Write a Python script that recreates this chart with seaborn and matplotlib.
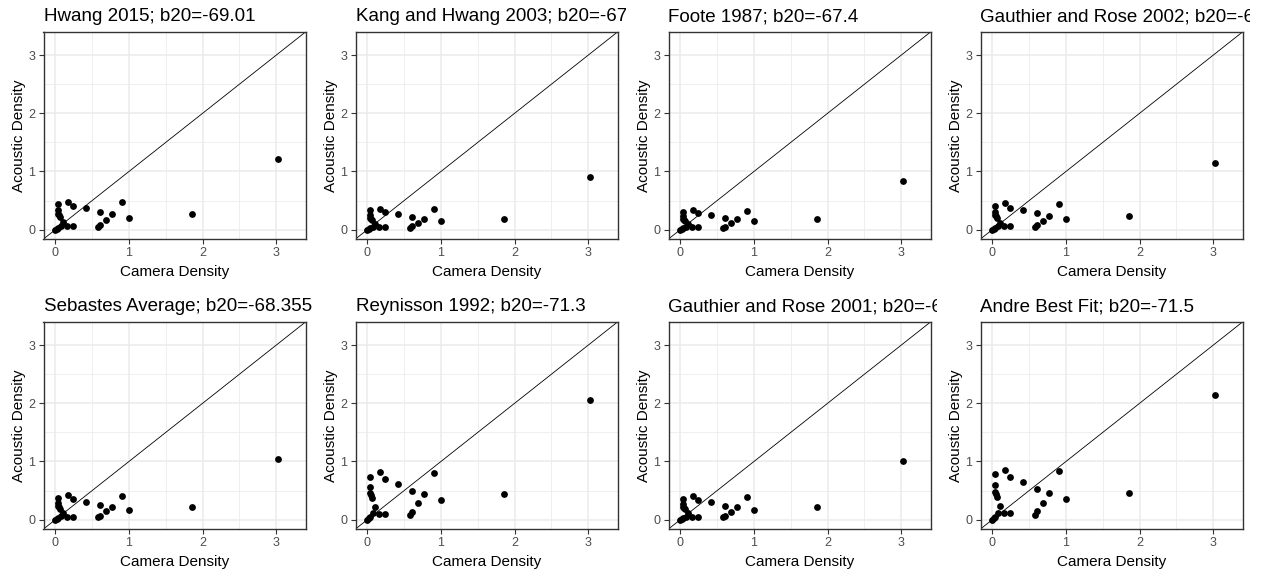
import numpy as np
import pandas as pd
import matplotlib
matplotlib.use("Agg")
import matplotlib.pyplot as plt
from matplotlib.transforms import Bbox, TransformedBbox
import seaborn as sns

# ---------------- data ----------------
titles = [
    "Hwang 2015; b20=-69.01",
    "Kang and Hwang 2003; b20=-67.7",
    "Foote 1987; b20=-67.4",
    "Gauthier and Rose 2002; b20=-68.7",
    "Sebastes Average; b20=-68.355",
    "Reynisson 1992; b20=-71.3",
    "Gauthier and Rose 2001; b20=-68.1",
    "Andre Best Fit; b20=-71.5",
]

camera = [3.03, 1.86, 1.00, 0.91, 0.77, 0.69, 0.60, 0.61, 0.58, 0.42, 0.235, 0.235,
          0.17, 0.155, 0.105, 0.035, 0.035, 0.04, 0.05, 0.058, 0.07, 0.04, 0.018, 0.0]

acoustic_hwang = [1.22, 0.26, 0.20, 0.47, 0.26, 0.17, 0.30, 0.077, 0.045, 0.37, 0.41, 0.06,
                  0.48, 0.06, 0.13, 0.44, 0.33, 0.27, 0.25, 0.22, 0.065, 0.03, 0.012, 0.0]
acoustic_kang = [0.91, 0.19, 0.15, 0.35, 0.19, 0.12, 0.22, 0.057, 0.033, 0.27, 0.30, 0.044,
                 0.36, 0.044, 0.10, 0.33, 0.25, 0.20, 0.19, 0.16, 0.05, 0.022, 0.009, 0.0]
acoustic_foote = [0.83, 0.18, 0.14, 0.32, 0.18, 0.11, 0.20, 0.053, 0.03, 0.25, 0.28, 0.04,
                  0.33, 0.04, 0.09, 0.30, 0.23, 0.19, 0.17, 0.15, 0.045, 0.02, 0.008, 0.0]
acoustic_gr2002 = [1.14, 0.24, 0.19, 0.44, 0.24, 0.155, 0.28, 0.072, 0.041, 0.34, 0.38, 0.055,
                   0.45, 0.055, 0.12, 0.41, 0.31, 0.25, 0.23, 0.20, 0.06, 0.028, 0.011, 0.0]
acoustic_sebastes = [1.05, 0.22, 0.17, 0.41, 0.22, 0.14, 0.25, 0.066, 0.038, 0.31, 0.35, 0.05,
                     0.42, 0.05, 0.11, 0.38, 0.28, 0.23, 0.21, 0.19, 0.056, 0.025, 0.01, 0.0]
acoustic_reynisson = [2.06, 0.44, 0.34, 0.80, 0.44, 0.28, 0.50, 0.13, 0.075, 0.62, 0.69, 0.10,
                      0.82, 0.10, 0.22, 0.74, 0.56, 0.46, 0.42, 0.37, 0.11, 0.05, 0.02, 0.0]
acoustic_gr2001 = [1.00, 0.21, 0.165, 0.39, 0.21, 0.135, 0.24, 0.063, 0.036, 0.30, 0.335, 0.049,
                   0.40, 0.049, 0.107, 0.36, 0.27, 0.22, 0.20, 0.18, 0.053, 0.024, 0.01, 0.0]
acoustic_andre = [2.15, 0.46, 0.36, 0.84, 0.46, 0.29, 0.52, 0.14, 0.08, 0.64, 0.73, 0.11,
                  0.86, 0.11, 0.23, 0.78, 0.60, 0.48, 0.44, 0.39, 0.12, 0.05, 0.02, 0.0]

acoustic_all = [acoustic_hwang, acoustic_kang, acoustic_foote, acoustic_gr2002,
                acoustic_sebastes, acoustic_reynisson, acoustic_gr2001, acoustic_andre]

frames = []
for t, ac in zip(titles, acoustic_all):
    frames.append(pd.DataFrame({"model": t, "camera": camera, "acoustic": ac}))
df = pd.concat(frames, ignore_index=True)

# ---------------- style ----------------
sns.set_theme(style="white")
plt.rcParams["font.family"] = ["Liberation Sans", "DejaVu Sans"]

W, H = 1261, 575
fig = plt.figure(figsize=(W / 100, H / 100), dpi=100)
fig.patch.set_facecolor("white")

col_left = [43.5, 355.5, 668.5, 980.5]
col_clip = [313, 626, 937, 1250]
row_top = [32, 322]
ax_w, ax_h = 262, 207

lim = (-0.162, 3.40)

for i, t in enumerate(titles):
    r, c = divmod(i, 4)
    left = col_left[c]
    top = row_top[r]
    ax = fig.add_axes([left / W, 1 - (top + ax_h) / H, ax_w / W, ax_h / H])
    sub = df[df["model"] == t]
    ax.set_axisbelow(True)
    ax.set_xlim(lim)
    ax.set_ylim(lim)
    ax.set_xticks([0, 1, 2, 3])
    ax.set_yticks([0, 1, 2, 3])
    ax.set_xticks([0.5, 1.5, 2.5], minor=True)
    ax.set_yticks([0.5, 1.5, 2.5], minor=True)
    ax.grid(which="major", color="#EBEBEB", linewidth=1.1)
    ax.grid(which="minor", color="#EBEBEB", linewidth=0.55)
    ax.axline((0, 0), slope=1, color="black", linewidth=0.6, zorder=2)
    sns.scatterplot(data=sub, x="camera", y="acoustic", ax=ax, color="black",
                    s=24, linewidth=0, zorder=3, legend=False)
    for sp in ax.spines.values():
        sp.set_color("#333333")
        sp.set_linewidth(1.0)
    ax.tick_params(which="major", length=3.8, width=0.8, color="#333333",
                   labelsize=9, labelcolor="#4D4D4D", pad=2.2,
                   bottom=True, left=True)
    ax.tick_params(which="minor", length=0)
    ax.set_xlabel("Camera Density", fontsize=11, color="black", labelpad=4)
    ax.set_ylabel("Acoustic Density", fontsize=11, color="black", labelpad=1.5)

    # title, clipped to the plot's cell like in the reference
    txt = fig.text(left / W, 1 - (top - 11) / H, t, fontsize=13.5, color="black",
                   ha="left", va="baseline")
    x0 = (col_clip[c - 1] if c > 0 else 0) / W
    x1 = col_clip[c] / W
    clip = TransformedBbox(Bbox([[x0, 0], [x1, 1]]), fig.transFigure)
    txt.set_clip_box(clip)
    txt.set_clip_on(True)

fig.savefig("out.png", dpi=100, facecolor="white")
